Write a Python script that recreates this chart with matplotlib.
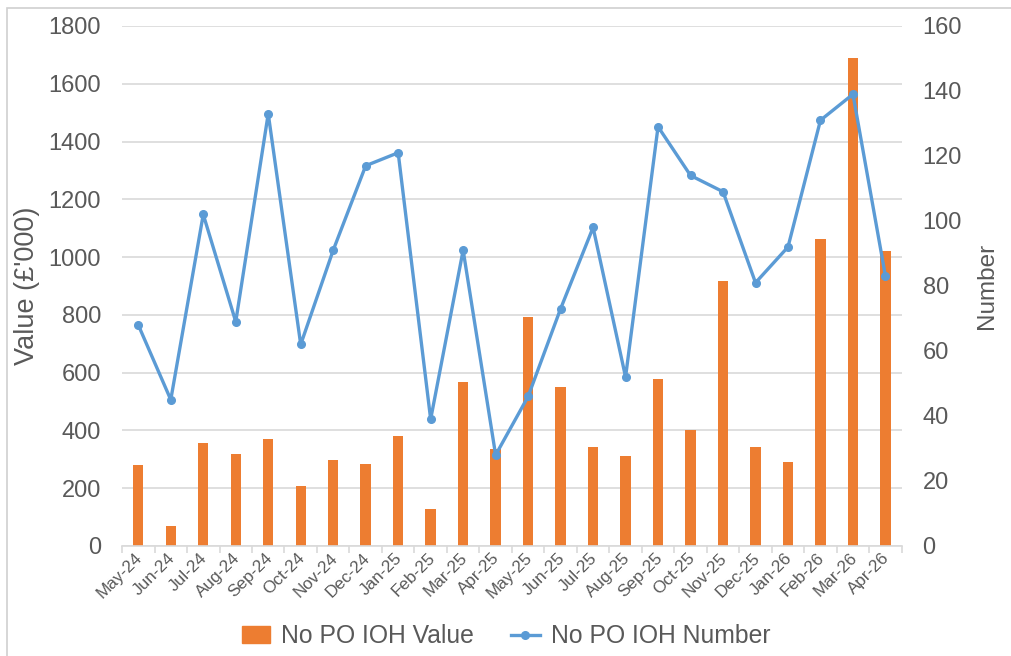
import numpy as np
import matplotlib.pyplot as plt
from matplotlib.patches import Rectangle
from matplotlib.lines import Line2D
from matplotlib.transforms import ScaledTranslation

plt.rcParams['font.family'] = ['Liberation Sans', 'DejaVu Sans']

months = ['May-24', 'Jun-24', 'Jul-24', 'Aug-24', 'Sep-24', 'Oct-24', 'Nov-24', 'Dec-24',
          'Jan-25', 'Feb-25', 'Mar-25', 'Apr-25', 'May-25', 'Jun-25', 'Jul-25', 'Aug-25',
          'Sep-25', 'Oct-25', 'Nov-25', 'Dec-25', 'Jan-26', 'Feb-26', 'Mar-26', 'Apr-26']
values = [280, 70, 357, 317, 370, 208, 299, 283, 381, 128, 568, 337,
          793, 549, 344, 313, 579, 400, 918, 344, 292, 1064, 1689, 1021]
numbers = [68, 45, 102, 69, 133, 62, 91, 117, 121, 39, 91, 28,
           46, 73, 98, 52, 129, 114, 109, 81, 92, 131, 139, 83]

orange = '#ED7D31'
blue = '#5B9BD5'
grey = '#595959'
gridc = '#D9D9D9'

fig = plt.figure(figsize=(10.12, 6.56), dpi=100)
# outer chart frame (runs off the right and bottom edges, as in the screenshot)
fig.patches.append(Rectangle((7 / 1012, -0.05), 1.1, 1 - 8 / 656 + 0.05,
                             transform=fig.transFigure, fill=False,
                             edgecolor='#D0D0D0', linewidth=1.2))

ax = fig.add_axes([0.1206, 0.1677, 0.7704, 0.7927])
x = np.arange(len(months))
ax.bar(x, values, width=0.32, color=orange, zorder=2)
ax.set_xlim(-0.5, len(months) - 0.5)
ax.set_ylim(0, 1800)
ax.set_yticks(np.arange(0, 1801, 200))
ax.grid(axis='y', color=gridc, linewidth=1.2, zorder=0)
ax.set_axisbelow(True)
for s in ['top', 'left', 'right']:
    ax.spines[s].set_visible(False)
ax.spines['bottom'].set_color(gridc)
ax.spines['bottom'].set_linewidth(1.2)
ax.tick_params(axis='y', length=0, pad=15, labelsize=17, labelcolor=grey)
ax.set_xticks(x)
ax.set_xticklabels(months, rotation=45, ha='right', va='top', fontsize=12.3, color=grey)
ax.tick_params(axis='x', which='major', length=0, pad=3)
shift = ScaledTranslation(0.07, 0, fig.dpi_scale_trans)
for lab in ax.get_xticklabels():
    lab.set_transform(lab.get_transform() + shift)
ax.set_xticks(np.arange(-0.5, len(months), 1), minor=True)
ax.tick_params(axis='x', which='minor', length=5, color=gridc, width=1.2)
ax.set_ylabel("Value (£'000)", fontsize=19.5, color=grey, labelpad=6)

ax2 = ax.twinx()
ax2.plot(x, numbers, color=blue, linewidth=2.4, marker='o', markersize=5.5, zorder=3)
ax2.set_ylim(0, 160)
ax2.set_yticks(np.arange(0, 161, 20))
for s in ['top', 'left', 'right', 'bottom']:
    ax2.spines[s].set_visible(False)
ax2.tick_params(axis='y', length=0, pad=15, labelsize=17, labelcolor=grey)
ax2.set_ylabel('Number', fontsize=17.5, color=grey, labelpad=10)

handles = [Rectangle((0, 0), 1, 1, color=orange),
           Line2D([0], [0], color=blue, linewidth=2.4, marker='o', markersize=5.5)]
fig.legend(handles, ['No PO IOH Value', 'No PO IOH Number'], loc='center',
           bbox_to_anchor=(0.5, 0.03), ncol=2, frameon=False, fontsize=17.8,
           labelcolor=grey, handlelength=1.15, columnspacing=1.5, handletextpad=0.45)

fig.savefig('out.png', dpi=100)
